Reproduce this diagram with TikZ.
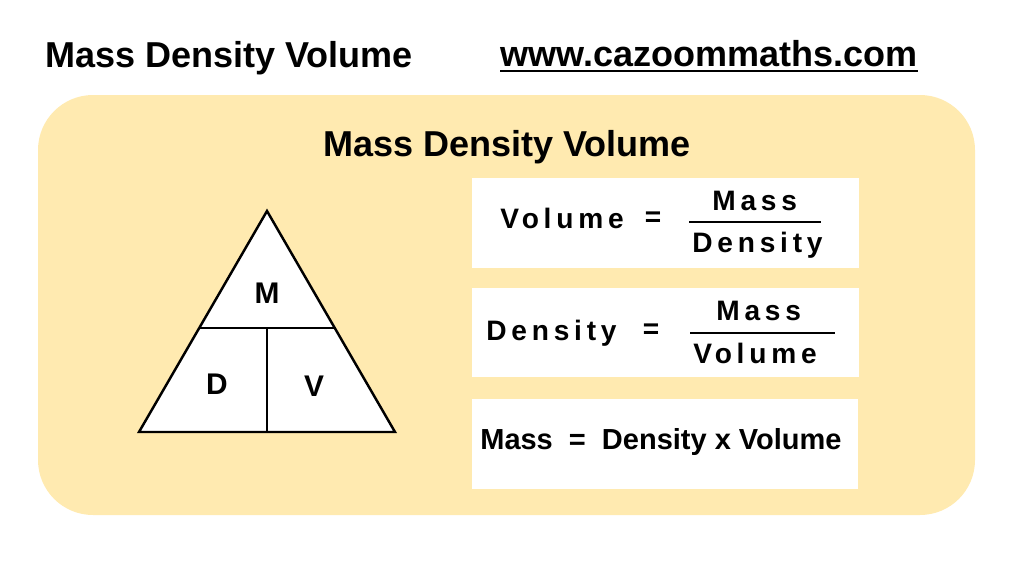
\documentclass[tikz,border=0pt]{standalone}
\usepackage{fontspec}
\setmainfont{Liberation Sans}
\newfontfamily\spacedfont[LetterSpace=17]{Liberation Sans}
\usetikzlibrary{positioning, calc}
\definecolor{cazoomcream}{HTML}{FFEAB0}
\tikzset{
  headtxt/.style={font=\fontsize{20.5}{24}\selectfont\bfseries, inner sep=0pt},
  trilbl/.style={font=\fontsize{17}{20}\selectfont\bfseries, inner sep=0pt},
  fbox/.style={rectangle, fill=white, minimum width=7.74cm, minimum height=1.8cm,
               inner sep=0pt},
  ftxt/.style={font=\spacedfont\fontsize{16}{19}\selectfont\bfseries, inner sep=0pt,
               anchor=base west},
  eqsign/.style={font=\fontsize{16}{19}\selectfont\bfseries, inner sep=0pt},
  fbar/.style={line width=0.9pt},
  triline/.style={line width=1.4pt, line join=miter},
}

\begin{document}
\begin{tikzpicture}[x=0.02cm, y=-0.02cm]
  \useasboundingbox (0,0) rectangle (1024,582);

  % heading
  \node[headtxt, anchor=base west] (title) at (45,67) {Mass Density Volume};
  \node[headtxt, anchor=base west] (url) at (500,66) {www.cazoommaths.com};
  \draw[line width=1.2pt] ([yshift=-2.7pt]url.base west) -- ([yshift=-2.7pt]url.base east);

  % panel
  \fill[cazoomcream, rounded corners=1.1cm] (38,95) rectangle (975,515);
  \node[headtxt, anchor=base] (panel) at (507,156) {Mass Density Volume};

  % triangle
  \coordinate (apex) at (267,211);
  \coordinate (bl) at (139,432);
  \coordinate (br) at (395,432);
  \coordinate (ml) at ($(apex)!0.529!(bl)$);
  \coordinate (mr) at ($(apex)!0.529!(br)$);
  \coordinate (mid) at ($(ml)!0.5!(mr)$);
  \fill[white] (apex) -- (bl) -- (br) -- cycle;
  \draw[triline] (apex) -- (bl) -- (br) -- cycle;
  \draw[triline] (ml) -- (mr);
  \draw[triline] (mid) -- (mid |- bl);
  \node[trilbl] (m) at (267,293) {M};
  \node[trilbl] (d) at (217,384) {D};
  \node[trilbl] (v) at (314,386) {V};

  % formula boxes
  \node[fbox] (box1) at (665.5,223) {};
  \node[fbox] (box2) at (665.5,332.5) {};
  \node[fbox] (box3) at (665,443.5) {};

  \node[ftxt] (vol1) at (500,228) {Volume};
  \node[eqsign] (eq1) at (653,219) {=};
  \node[ftxt] (num1) at (712,210) {Mass};
  \node[ftxt] (den1) at (692,252) {Density};
  \draw[fbar] (689,222) -- (821,222);

  \node[ftxt] (den2l) at (486,340) {Density};
  \node[eqsign] (eq2) at (651,331) {=};
  \node[ftxt] (num2) at (716,320) {Mass};
  \node[ftxt] (vol2) at (693,363) {Volume};
  \draw[fbar] (690,333) -- (835,333);

  \node[font=\fontsize{16.5}{19}\selectfont\bfseries, inner sep=0pt, anchor=base west]
    (mass3) at (480,449) {Mass\ \ =\ \ Density x Volume};
\end{tikzpicture}
\end{document}
